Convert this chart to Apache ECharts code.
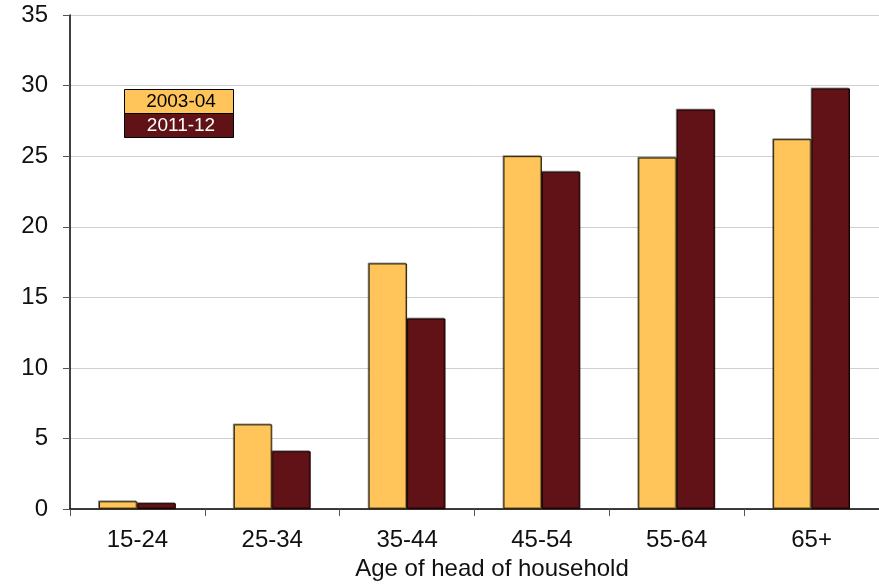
<!DOCTYPE html>
<html><head><meta charset="utf-8">
<script src="https://cdn.jsdelivr.net/npm/echarts@6/dist/echarts.min.js"></script>
<style>html,body{margin:0;padding:0;background:#fff}#c{width:879px;height:586px}</style>
</head><body><div id="c"></div>
<script>
const categories = ['15-24','25-34','35-44','45-54','55-64','65+'];
const s2003 = [0.55, 6.0, 17.4, 25.0, 24.9, 26.2];
const s2011 = [0.42, 4.1, 13.5, 23.9, 28.3, 29.8];
const seriesNames = ['2003-04','2011-12'];
const yTicks = [0,5,10,15,20,25,30,35];
const xName = 'Age of head of household';

const chart = echarts.init(document.getElementById('c'));
const font = 'Liberation Sans, Arial, sans-serif';
chart.setOption({
  animation: false,
  grid: {left: 70, top: 15, width: 810, height: 500, containLabel: false},
  xAxis: {
    type: 'category', data: categories,
    axisLine: {lineStyle: {color: '#000', width: 1.5}},
    axisTick: {show: true, length: 7, lineStyle: {color: '#555'}},
    axisLabel: {color: '#111', fontSize: 24, fontFamily: font, margin: 19},
    name: xName, nameLocation: 'middle', nameGap: 41,
    nameTextStyle: {color: '#111', fontSize: 24, fontFamily: font, padding: [0,0,0,35], verticalAlign: 'top'}
  },
  yAxis: {
    type: 'value', min: yTicks[0], max: yTicks[yTicks.length-1], interval: 5,
    axisLine: {show: true, lineStyle: {color: '#000', width: 1.5}},
    axisTick: {show: true, length: 7, lineStyle: {color: '#555'}},
    axisLabel: {color: '#111', fontSize: 24, fontFamily: font, margin: 22},
    splitLine: {lineStyle: {color: '#d0d0d0', width: 1}}
  },
  series: [
    {name: seriesNames[0], type: 'bar', data: s2003, barGap: '0%', barCategoryGap: '43%',
     itemStyle: {color: '#FFC55A', borderColor: '#2a2000', borderWidth: 1, shadowColor: 'rgba(0,0,0,0.35)', shadowOffsetX: -1, shadowOffsetY: -1}},
    {name: seriesNames[1], type: 'bar', data: s2011, barGap: '0%', barCategoryGap: '43%',
     itemStyle: {color: '#611216', borderColor: '#1a0000', borderWidth: 1, shadowColor: 'rgba(0,0,0,0.35)', shadowOffsetX: -1, shadowOffsetY: -1}}
  ],
  graphic: [
    {type: 'rect', left: 124, top: 89, shape: {width: 109, height: 24}, style: {fill: '#FFC55A', stroke: '#000', lineWidth: 1}},
    {type: 'rect', left: 124, top: 113, shape: {width: 109, height: 24}, style: {fill: '#611216', stroke: '#000', lineWidth: 1}},
    {type: 'text', x: 181, y: 102, style: {text: seriesNames[0], fill: '#000', font: '19px ' + font, textAlign: 'center', textVerticalAlign: 'middle'}},
    {type: 'text', x: 181, y: 126, style: {text: seriesNames[1], fill: '#fff', font: '19px ' + font, textAlign: 'center', textVerticalAlign: 'middle'}}
  ]
});
</script></body></html>
